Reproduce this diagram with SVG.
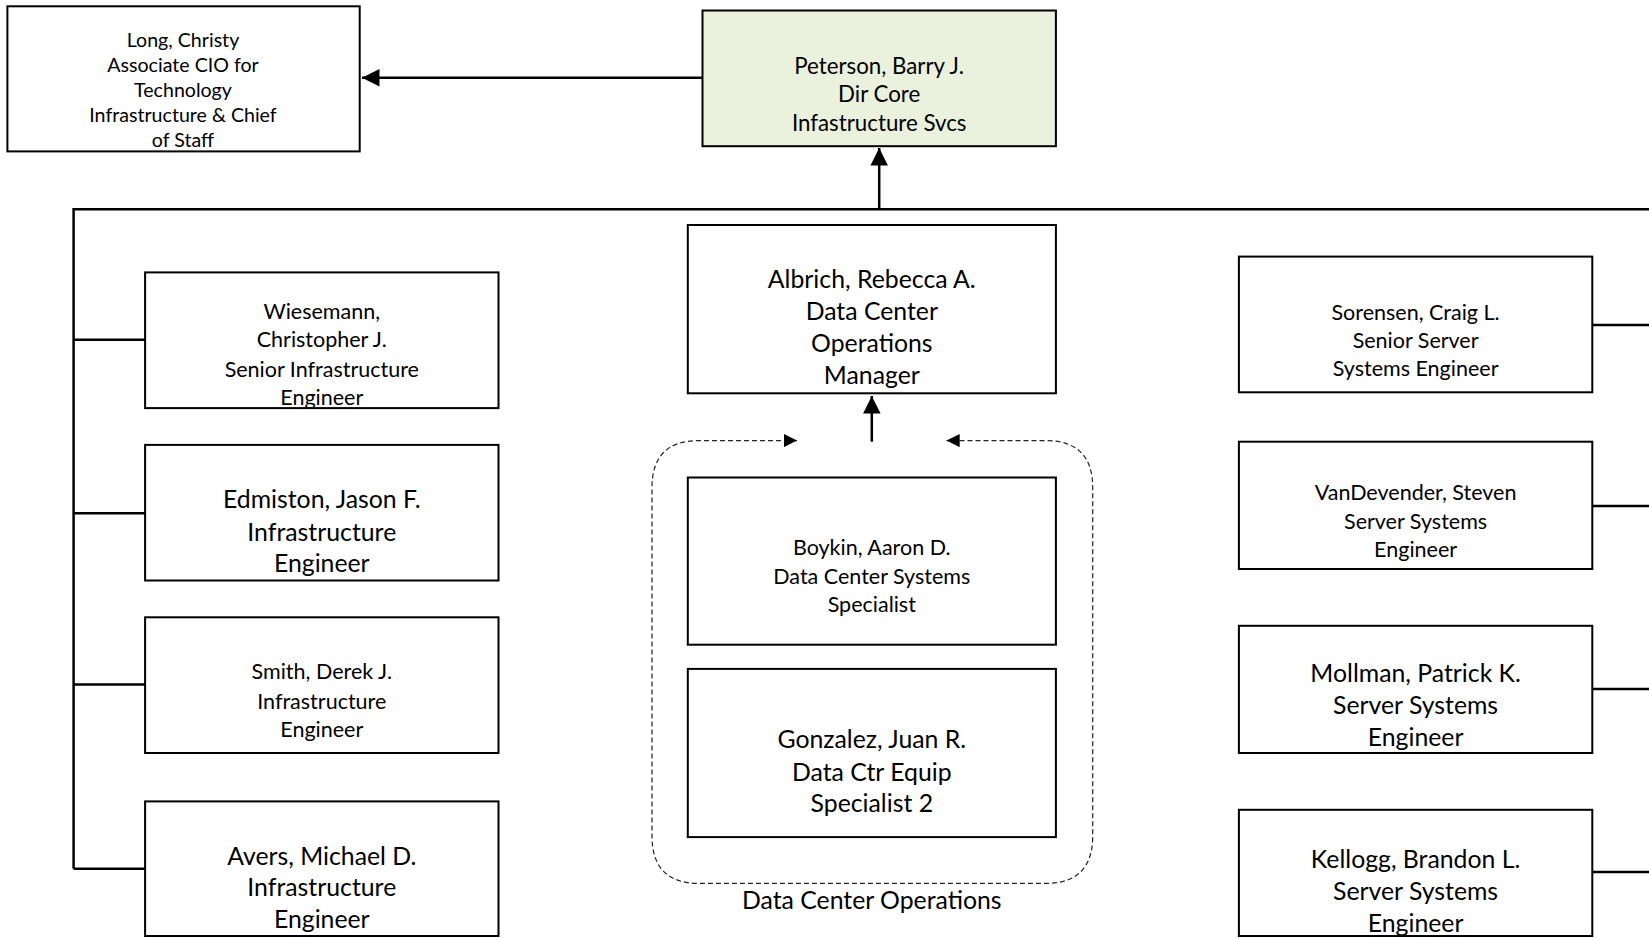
<svg xmlns="http://www.w3.org/2000/svg" width="1649" height="938" viewBox="0 0 1649 938">
<style>
.box{fill:#fff;stroke:#000;stroke-width:2}
.top{fill:#EAF1DD;stroke:#000;stroke-width:2}
.ln{fill:none;stroke:#000;stroke-width:2.5}
.dash{fill:none;stroke:#222;stroke-width:1.2;stroke-dasharray:5,3}
text{font-family:Lato,"Open Sans","Liberation Sans",sans-serif;fill:#000;text-anchor:middle}
.s{font-size:21.5px}
.l{font-size:24.8px}
.t{font-size:19.6px}
.p{font-size:22.3px}
</style>
<defs>
<marker id="ah" viewBox="0 0 10 10" refX="10" refY="5" markerWidth="7" markerHeight="7" orient="auto" markerUnits="strokeWidth"><path d="M0,0 L10,5 L0,10 z" fill="#000"/></marker>
<marker id="dh" viewBox="0 0 10 10" refX="10" refY="5" markerWidth="11" markerHeight="11" orient="auto-start-reverse" markerUnits="strokeWidth"><path d="M0,0 L10,5 L0,10 z" fill="#000"/></marker>
</defs>
<g id="connectors">
<line class="ln" x1="702.5" y1="77.8" x2="362" y2="77.8" marker-end="url(#ah)"/>
<line class="ln" x1="879.2" y1="209.3" x2="879.2" y2="148" marker-end="url(#ah)"/>
<polyline class="ln" points="73.6,868.7 73.6,209.3 1649,209.3"/>
<line class="ln" x1="73.6" y1="339.7" x2="145.1" y2="339.7"/>
<line class="ln" x1="73.6" y1="513.2" x2="145.1" y2="513.2"/>
<line class="ln" x1="73.6" y1="684.6" x2="145.1" y2="684.6"/>
<line class="ln" x1="73.6" y1="868.7" x2="145.1" y2="868.7"/>
<line class="ln" x1="1592.3" y1="325" x2="1649" y2="325"/>
<line class="ln" x1="1592.3" y1="505.9" x2="1649" y2="505.9"/>
<line class="ln" x1="1592.3" y1="688.9" x2="1649" y2="688.9"/>
<line class="ln" x1="1592.3" y1="871.9" x2="1649" y2="871.9"/>
<line class="ln" x1="871.8" y1="441.7" x2="871.8" y2="396" marker-end="url(#ah)"/>
<path class="dash" d="M797,440.6 H699 Q652,440.6 652,487.6 V836 Q652,883.4 699,883.4 H1045.7 Q1092.7,883.4 1092.7,836 V487.6 Q1092.7,440.6 1045.7,440.6 H946.5" marker-start="url(#dh)" marker-end="url(#dh)"/>
</g>
<g id="long">
<rect class="box" x="7.4" y="6.3" width="352.3" height="145.1"/>
<text class="t" x="183" y="46.5">Long, Christy</text>
<text class="t" x="183" y="71.7">Associate CIO for</text>
<text class="t" x="183" y="96.9">Technology</text>
<text class="t" x="183" y="122.2">Infrastructure &amp; Chief</text>
<text class="t" x="183" y="147.4">of Staff</text>
</g>
<g id="peterson">
<rect class="top" x="702.5" y="10.5" width="353.4" height="135.7"/>
<text class="p" x="879.2" y="73.8">Peterson, Barry J.</text>
<text class="p" x="879.2" y="102.2">Dir Core</text>
<text class="p" x="879.2" y="130.5">Infastructure Svcs</text>
</g>
<g id="wiesemann">
<rect class="box" x="145.1" y="272.4" width="353.4" height="135.7"/>
<text class="s" x="321.8" y="318.6">Wiesemann,</text>
<text class="s" x="321.8" y="347">Christopher J.</text>
<text class="s" x="321.8" y="376.5">Senior Infrastructure</text>
<text class="s" x="321.8" y="404.8">Engineer</text>
</g>
<g id="edmiston">
<rect class="box" x="145.1" y="444.9" width="353.4" height="135.6"/>
<text class="l" x="321.8" y="508.1">Edmiston, Jason F.</text>
<text class="l" x="321.8" y="540.7">Infrastructure</text>
<text class="l" x="321.8" y="572.2">Engineer</text>
</g>
<g id="smith">
<rect class="box" x="145.1" y="617.3" width="353.4" height="135.7"/>
<text class="s" x="321.8" y="679.3">Smith, Derek J.</text>
<text class="s" x="321.8" y="708.8">Infrastructure</text>
<text class="s" x="321.8" y="737.2">Engineer</text>
</g>
<g id="avers">
<rect class="box" x="145.1" y="801.4" width="353.4" height="134.6"/>
<text class="l" x="321.8" y="864.5">Avers, Michael D.</text>
<text class="l" x="321.8" y="896.1">Infrastructure</text>
<text class="l" x="321.8" y="927.7">Engineer</text>
</g>
<g id="albrich">
<rect class="box" x="687.8" y="225" width="368.1" height="168.3"/>
<text class="l" x="871.8" y="288.3">Albrich, Rebecca A.</text>
<text class="l" x="871.8" y="319.8">Data Center</text>
<text class="l" x="871.8" y="352.4">Operations</text>
<text class="l" x="871.8" y="384">Manager</text>
</g>
<g id="boykin">
<rect class="box" x="687.8" y="477.5" width="368.1" height="167.2"/>
<text class="s" x="871.8" y="555.3">Boykin, Aaron D.</text>
<text class="s" x="871.8" y="583.6">Data Center Systems</text>
<text class="s" x="871.8" y="612">Specialist</text>
</g>
<g id="gonzalez">
<rect class="box" x="687.8" y="668.9" width="368.1" height="168.2"/>
<text class="l" x="871.8" y="747.8">Gonzalez, Juan R.</text>
<text class="l" x="871.8" y="780.5">Data Ctr Equip</text>
<text class="l" x="871.8" y="812">Specialist 2</text>
</g>
<g id="dco-label">
<text class="l" x="871.8" y="908.7">Data Center Operations</text>
</g>
<g id="sorensen">
<rect class="box" x="1238.9" y="256.6" width="353.4" height="135.7"/>
<text class="s" x="1415.6" y="319.7">Sorensen, Craig L.</text>
<text class="s" x="1415.6" y="348">Senior Server</text>
<text class="s" x="1415.6" y="376.4">Systems Engineer</text>
</g>
<g id="vandevender">
<rect class="box" x="1238.9" y="441.7" width="353.4" height="127.3"/>
<text class="s" x="1415.6" y="499.5">VanDevender, Steven</text>
<text class="s" x="1415.6" y="528.9">Server Systems</text>
<text class="s" x="1415.6" y="557.3">Engineer</text>
</g>
<g id="mollman">
<rect class="box" x="1238.9" y="625.8" width="353.4" height="127.2"/>
<text class="l" x="1415.6" y="681.5">Mollman, Patrick K.</text>
<text class="l" x="1415.6" y="714.2">Server Systems</text>
<text class="l" x="1415.6" y="745.7">Engineer</text>
</g>
<g id="kellogg">
<rect class="box" x="1238.9" y="809.8" width="353.4" height="126.2"/>
<text class="l" x="1415.6" y="867.7">Kellogg, Brandon L.</text>
<text class="l" x="1415.6" y="900.3">Server Systems</text>
<text class="l" x="1415.6" y="931.9">Engineer</text>
</g>
</svg>
